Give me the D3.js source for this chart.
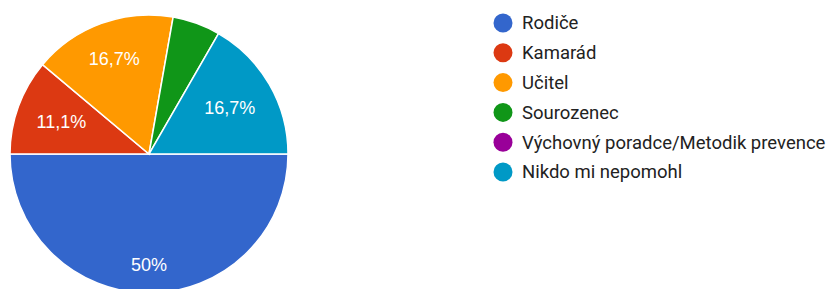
<!DOCTYPE html>
<html>
<head>
<meta charset="utf-8">
<script src="https://cdn.jsdelivr.net/npm/d3@7"></script>
<style>
  body { margin: 0; background: #fff; }
  text { font-family: Roboto, "Liberation Sans", Arial, sans-serif; }
  text.lbl { font-family: "Liberation Sans", Arial, sans-serif; }
</style>
</head>
<body>
<div id="chart"></div>
<script>
var categories = ['Rodiče', 'Kamarád', 'Učitel', 'Sourozenec', 'Výchovný poradce/Metodik prevence', 'Nikdo mi nepomohl'];
var counts = [9, 2, 3, 1, 0, 3];
var colors = ['#3366cc', '#dc3912', '#ff9900', '#109618', '#990099', '#0099c6'];

var width = 828, height = 289;
var cx = 149, cy = 154, r = 139;

var svg = d3.select('#chart').append('svg')
    .attr('width', width)
    .attr('height', height);

var total = d3.sum(counts);
var data = categories.map(function (c, i) {
    return { name: c, value: counts[i], color: colors[i] };
});

var pie = d3.pie()
    .sort(null)
    .value(function (d) { return d.value; })
    .startAngle(Math.PI / 2)
    .endAngle(Math.PI / 2 + 2 * Math.PI);

var arc = d3.arc().innerRadius(0).outerRadius(r);

var g = svg.append('g')
    .attr('transform', 'translate(' + cx + ',' + cy + ')');

var arcs = pie(data);

g.selectAll('path')
    .data(arcs.filter(function (d) { return d.data.value > 0; }))
    .enter()
    .append('path')
    .attr('d', arc)
    .style('fill', function (d) { return d.data.color; })
    .style('stroke', '#fff')
    .style('stroke-width', 1.5);

var fmt = function (v) {
    var p = Math.round(v / total * 1000) / 10;
    return String(p).replace('.', ',') + '%';
};

// labels: pushed out along the bisector until the box corner touches an inner circle
var labelR = r * 0.856;
g.selectAll('text.lbl')
    .data(arcs.filter(function (d) { return d.data.value / total >= 0.07; }))
    .enter()
    .append('text')
    .attr('class', 'lbl')
    .attr('text-anchor', 'middle')
    .attr('dy', '0.35em')
    .style('font-size', '18px')
    .style('fill', '#fff')
    .text(function (d) { return fmt(d.data.value); })
    .each(function (d) {
        var bb = this.getBBox();
        var w = bb.width, h = 14;
        var a = (d.startAngle + d.endAngle) / 2;
        var ux = Math.sin(a), uy = -Math.cos(a);
        var b = Math.abs(ux) * w / 2 + Math.abs(uy) * h / 2;
        var c = (w * w + h * h) / 4 - labelR * labelR;
        var dist = -b + Math.sqrt(b * b - c);
        d3.select(this)
            .attr('x', ux * dist)
            .attr('y', uy * dist);
    });

// legend
var legend = svg.append('g')
    .attr('transform', 'translate(503, 23)');

var rows = legend.selectAll('g')
    .data(data)
    .enter()
    .append('g')
    .attr('transform', function (d, i) { return 'translate(0,' + (i * 29.8) + ')'; });

rows.append('circle')
    .attr('r', 9.5)
    .style('fill', function (d) { return d.color; });

rows.append('text')
    .attr('x', 19)
    .attr('dy', '0.35em')
    .style('font-size', '18.5px')
    .style('fill', '#222')
    .text(function (d) { return d.name; });
</script>
</body>
</html>
